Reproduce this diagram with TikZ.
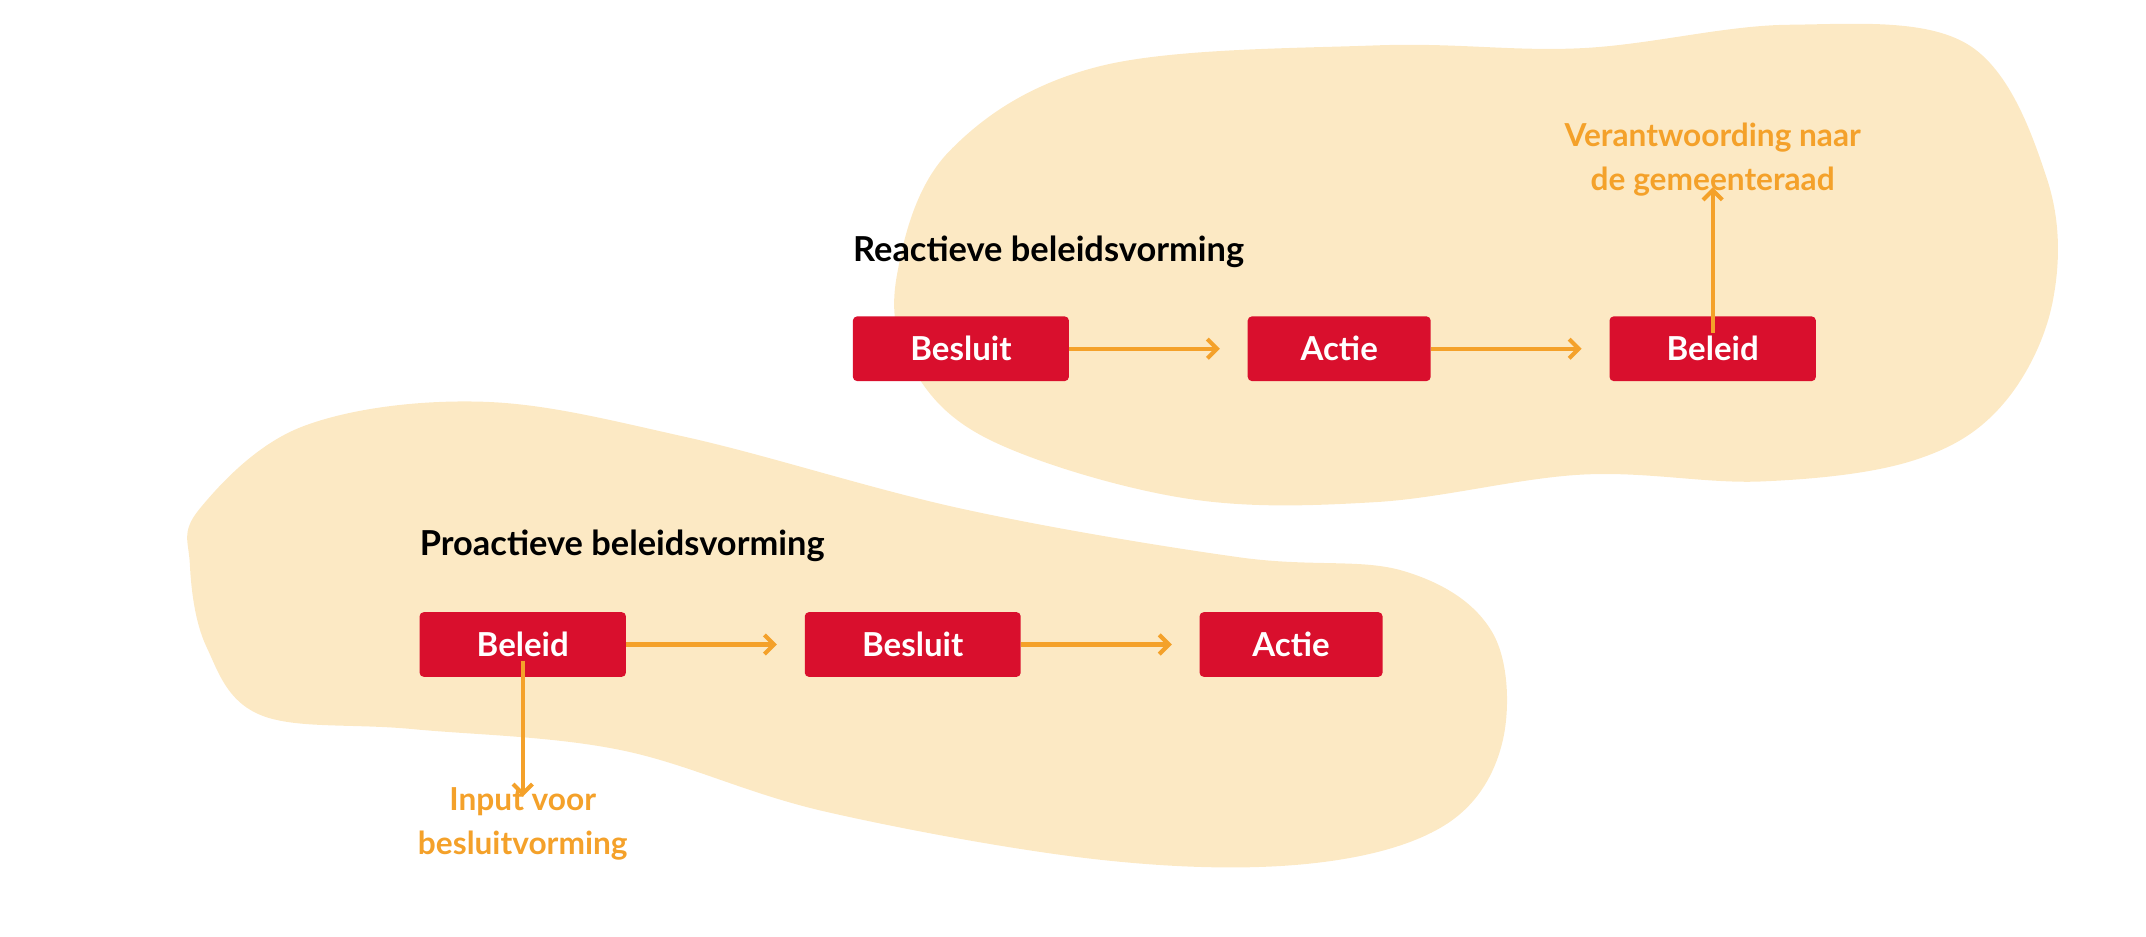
\documentclass[tikz,border=0pt]{standalone}
\usepackage{fontspec}
\setmainfont{Lato}
\usetikzlibrary{arrows.meta}
\definecolor{blob}{HTML}{FCE9C4}
\definecolor{boxred}{HTML}{D90F2D}
\definecolor{arr}{HTML}{F4A12A}
\begin{document}
\begin{tikzpicture}[x=1pt,y=-1pt,
  stepbox/.style={fill=boxred,rounded corners=3pt,text=white,font=\bfseries\fontsize{24}{28}\selectfont,minimum height=47pt,inner sep=0pt},
  conn/.style={draw=arr,line width=3pt,-{Straight Barb[length=7pt,width=14pt,line width=3pt]}},
  lab/.style={text=arr,font=\bfseries\fontsize{23}{32}\selectfont,align=center},
  ttl/.style={font=\bfseries\fontsize{25}{30}\selectfont,anchor=west,inner sep=0pt}]
\useasboundingbox (0,0) rectangle (1560,681);
\fill[blob] plot[smooth cycle,tension=0.6] coordinates {(690,110) (800,48) (1000,33) (1150,35) (1300,18) (1430,32) (1488,130) (1492,220) (1455,295) (1390,335) (1280,350) (1150,345) (1000,365) (860,362) (720,320) (662,265) (652,200)};
\fill[blob] plot[smooth cycle,tension=0.6] coordinates {(145,370) (220,310) (350,292) (500,318) (700,370) (900,405) (1020,415) (1085,460) (1092,540) (1050,600) (950,628) (800,625) (600,590) (450,545) (300,530) (190,520) (150,470) (138,410)};
\node[ttl] (t1) at (620,183) {Reactieve beleidsvorming};
\node[ttl] (t2) at (305,397) {Proactieve beleidsvorming};
\node[stepbox,minimum width=157pt] (a1) at (698.5,253.5) {Besluit};
\node[stepbox,minimum width=133pt] (a2) at (973.5,253.5) {Actie};
\node[stepbox,minimum width=150pt] (a3) at (1245,253.5) {Beleid};
\node[stepbox,minimum width=150pt] (b1) at (380,468.5) {Beleid};
\node[stepbox,minimum width=157pt] (b2) at (663.5,468.5) {Besluit};
\node[stepbox,minimum width=133pt] (b3) at (938.5,468.5) {Actie};
\node[lab] (l1) at (1245,116) {Verantwoording naar\\de gemeenteraad};
\node[lab] (l2) at (380,599) {Input voor\\besluitvorming};
\draw[conn] (a1.east) -- ([xshift=-20pt]a2.west);
\draw[conn] (a2.east) -- ([xshift=-20pt]a3.west);
\draw[conn] ([yshift=-12pt]a3.north) -- ([yshift=10pt]l1.south);
\draw[conn] (b1.east) -- ([xshift=-20pt]b2.west);
\draw[conn] (b2.east) -- ([xshift=-20pt]b3.west);
\draw[conn] ([yshift=12pt]b1.south) -- ([yshift=-10pt]l2.north);
\end{tikzpicture}
\end{document}
